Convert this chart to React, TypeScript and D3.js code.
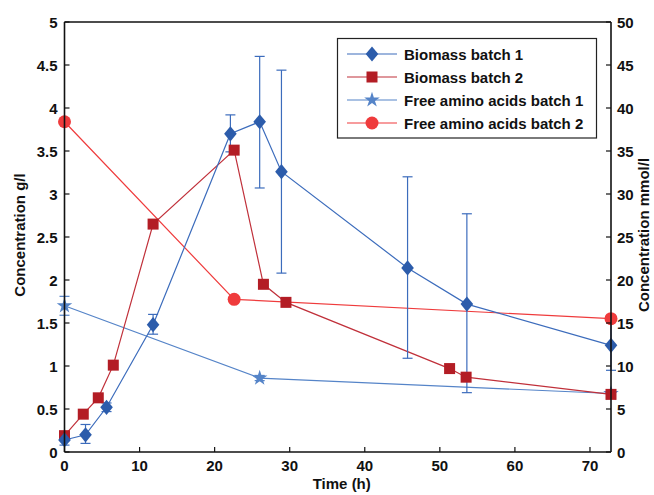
import React from "react";
import * as d3 from "d3";

// Sampling times (h) and measured values
const bio1Time = [0, 2.8, 5.6, 11.8, 22.1, 26.0, 28.9, 45.7, 53.6, 72.8];
const bio1Value = [0.14, 0.2, 0.52, 1.48, 3.7, 3.84, 3.26, 2.14, 1.72, 1.24];
const bio1Low = [0.08, 0.1, 0.47, 1.37, 3.49, 3.07, 2.08, 1.09, 0.69, 0.95];
const bio1High = [0.2, 0.32, 0.57, 1.6, 3.92, 4.6, 4.44, 3.2, 2.77, 1.53];

const bio2Time = [0, 2.5, 4.5, 6.5, 11.8, 22.6, 26.5, 29.5, 51.3, 53.5, 72.8];
const bio2Value = [0.19, 0.44, 0.63, 1.01, 2.65, 3.51, 1.95, 1.74, 0.97, 0.87, 0.67];

const aa1Time = [0, 26.0, 72.8];
const aa1Value = [17.0, 8.6, 6.8];
const aa1Low = [15.9, 8.3, 6.6];
const aa1High = [18.1, 8.9, 7.0];

const aa2Time = [0, 22.6, 72.8];
const aa2Value = [38.4, 17.75, 15.5];

const xTicks = [0, 10, 20, 30, 40, 50, 60, 70];
const yLeftTicks = [0, 0.5, 1, 1.5, 2, 2.5, 3, 3.5, 4, 4.5, 5];
const yRightTicks = [0, 5, 10, 15, 20, 25, 30, 35, 40, 45, 50];

const legendLabels = [
  "Biomass batch 1",
  "Biomass batch 2",
  "Free amino acids batch 1",
  "Free amino acids batch 2",
];

const C_BIO1 = "#2c5cab";
const C_BIO1_LINE = "#3c6cbc";
const C_BIO2 = "#b31d25";
const C_BIO2_LINE = "#c0303a";
const C_AA1 = "#5584c8";
const C_AA2 = "#ef3b3c";

const FONT = "'Liberation Sans', Arial, Helvetica, sans-serif";

const left = 64.5;
const right = 611;
const top = 22;
const bottom = 452;

const x = d3.scaleLinear().domain([0, 72.8]).range([left, right]);
const yL = d3.scaleLinear().domain([0, 5]).range([bottom, top]);
const yR = d3.scaleLinear().domain([0, 50]).range([bottom, top]);

function diamond(cx: number, cy: number, key: string | number) {
  const w = 6.3, h = 7.6;
  return (
    <path
      key={key}
      d={`M${cx},${cy - h}L${cx + w},${cy}L${cx},${cy + h}L${cx - w},${cy}Z`}
      fill={C_BIO1}
    />
  );
}
function square(cx: number, cy: number, key: string | number) {
  const s = 5.5;
  return <rect key={key} x={cx - s} y={cy - s} width={2 * s} height={2 * s} fill={C_BIO2} />;
}
const starPath = d3.symbol(d3.symbolStar, 75)()!;
function star(cx: number, cy: number, key: string | number) {
  return <path key={key} d={starPath} transform={`translate(${cx},${cy})`} fill={C_AA1} />;
}
function circle(cx: number, cy: number, key: string | number) {
  return <circle key={key} cx={cx} cy={cy} r={6.5} fill={C_AA2} />;
}

function ErrorBars({
  xs, lo, hi, yScale, color,
}: { xs: number[]; lo: number[]; hi: number[]; yScale: d3.ScaleLinear<number, number>; color: string }) {
  return (
    <g stroke={color} strokeWidth={1.2}>
      {xs.map((t, i) => {
        const cx = x(t);
        const y1 = yScale(lo[i]);
        const y2 = yScale(hi[i]);
        return (
          <g key={i}>
            <line x1={cx} x2={cx} y1={y1} y2={y2} />
            <line x1={cx - 5} x2={cx + 5} y1={y1} y2={y1} />
            <line x1={cx - 5} x2={cx + 5} y1={y2} y2={y2} />
          </g>
        );
      })}
    </g>
  );
}

export default function App() {
  const lineL = d3.line<[number, number]>().x((d) => x(d[0])).y((d) => yL(d[1]));
  const lineR = d3.line<[number, number]>().x((d) => x(d[0])).y((d) => yR(d[1]));
  const pts = (ts: number[], vs: number[]) => ts.map((t, i) => [t, vs[i]] as [number, number]);

  const legX = 337.5, legY = 38.5, legW = 259, legH = 99.5;
  const rowY = [54, 77, 100, 123];
  const markers = [diamond, square, star, circle];
  const legLineColors = [C_BIO1_LINE, C_BIO2_LINE, C_AA1, C_AA2];

  return (
    <svg
      width={654}
      height={495}
      style={{ position: "absolute", left: 0, top: 0, background: "#fff" }}
      fontFamily={FONT}
    >
      {/* series lines */}
      <path d={lineR(pts(aa2Time, aa2Value))!} fill="none" stroke={C_AA2} strokeWidth={1.2} />
      <path d={lineR(pts(aa1Time, aa1Value))!} fill="none" stroke={C_AA1} strokeWidth={1.2} />
      <path d={lineL(pts(bio2Time, bio2Value))!} fill="none" stroke={C_BIO2_LINE} strokeWidth={1.2} />
      <path d={lineL(pts(bio1Time, bio1Value))!} fill="none" stroke={C_BIO1_LINE} strokeWidth={1.2} />

      {/* error bars */}
      <ErrorBars xs={aa1Time} lo={aa1Low} hi={aa1High} yScale={yR} color={C_AA1} />
      <ErrorBars xs={bio1Time} lo={bio1Low} hi={bio1High} yScale={yL} color={C_BIO1_LINE} />

      {/* markers */}
      {aa2Time.map((t, i) => circle(x(t), yR(aa2Value[i]), "c" + i))}
      {aa1Time.map((t, i) => star(x(t), yR(aa1Value[i]), "s" + i))}
      {bio2Time.map((t, i) => square(x(t), yL(bio2Value[i]), "q" + i))}
      {bio1Time.map((t, i) => diamond(x(t), yL(bio1Value[i]), "d" + i))}

      {/* frame */}
      <g stroke="#111" strokeWidth={1.6} fill="none">
        <line x1={left} x2={right} y1={top} y2={top} />
        <line x1={left} x2={right} y1={bottom} y2={bottom} />
        <line x1={left} x2={left} y1={top} y2={bottom} />
        <line x1={right} x2={right} y1={top} y2={bottom} />
      </g>

      {/* x axis */}
      <g fontSize={15} fontWeight="bold" fill="#111" textAnchor="middle">
        {xTicks.map((t) => (
          <g key={t}>
            <line x1={x(t)} x2={x(t)} y1={bottom} y2={bottom - 5} stroke="#111" strokeWidth={1.2} />
            <text x={x(t)} y={bottom + 19}>{t}</text>
          </g>
        ))}
        <text x={(left + right) / 2 + 4} y={489}>Time (h)</text>
      </g>

      {/* left y axis */}
      <g fontSize={15} fontWeight="bold" fill="#111" textAnchor="end">
        {yLeftTicks.map((t) => (
          <g key={t}>
            <line x1={left} x2={left + 5} y1={yL(t)} y2={yL(t)} stroke="#111" strokeWidth={1.2} />
            <text x={left - 7} y={yL(t) + 5.5}>{t}</text>
          </g>
        ))}
        <text
          transform={`translate(25,${(top + bottom) / 2 - 2}) rotate(-90)`}
          textAnchor="middle"
          fontSize={15}
        >
          Concentration g/l
        </text>
      </g>

      {/* right y axis */}
      <g fontSize={15} fontWeight="bold" fill="#111" textAnchor="start">
        {yRightTicks.map((t) => (
          <g key={t}>
            <line x1={right} x2={right - 5} y1={yR(t)} y2={yR(t)} stroke="#111" strokeWidth={1.2} />
            <text x={right + 6} y={yR(t) + 5.5}>{t}</text>
          </g>
        ))}
        <text
          transform={`translate(649,${(top + bottom) / 2 - 2}) rotate(-90)`}
          textAnchor="middle"
          fontSize={15}
        >
          Concentration mmol/l
        </text>
      </g>

      {/* legend */}
      <g>
        <rect x={legX} y={legY} width={legW} height={legH} fill="#fff" stroke="#222" strokeWidth={1.2} />
        {legendLabels.map((lab, i) => (
          <g key={lab}>
            <line x1={347} x2={397} y1={rowY[i]} y2={rowY[i]} stroke={legLineColors[i]} strokeWidth={1.2} />
            {markers[i](372, rowY[i], "l" + i)}
            <text x={404} y={rowY[i] + 5.5} fontSize={15} fontWeight="bold" fill="#111">
              {lab}
            </text>
          </g>
        ))}
      </g>
    </svg>
  );
}
